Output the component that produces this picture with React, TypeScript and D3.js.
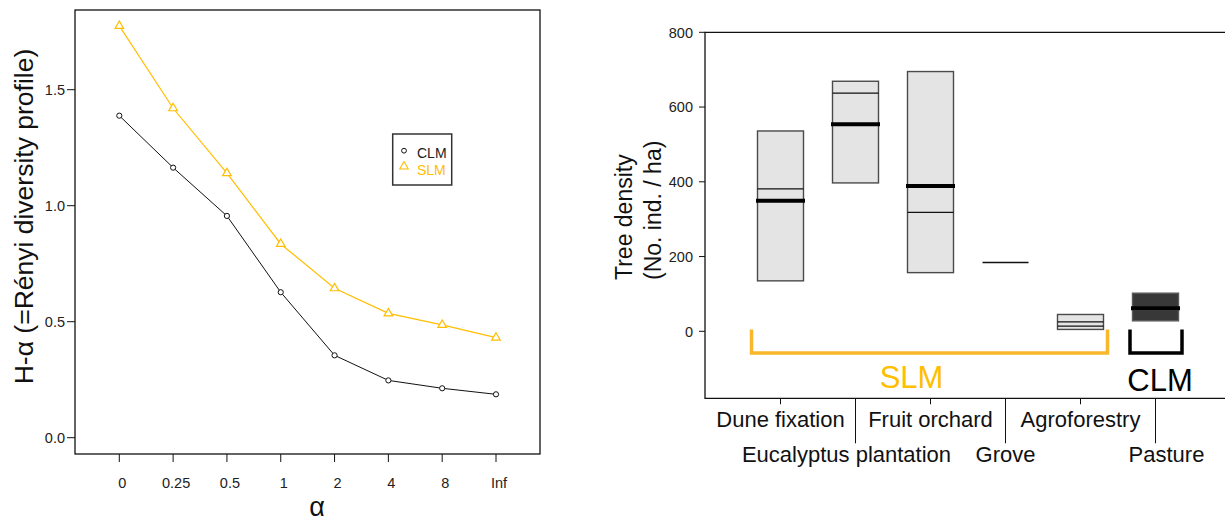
import React, { useEffect, useRef } from 'react';
import * as d3 from 'd3';

// Rényi diversity profile (left panel)
const alphaLabels = ['0', '0.25', '0.5', '1', '2', '4', '8', 'Inf'];
const clmValues = [1.388, 1.164, 0.956, 0.627, 0.355, 0.247, 0.213, 0.187];
const slmValues = [1.775, 1.42, 1.14, 0.835, 0.644, 0.536, 0.486, 0.431];
const hTicks = [0, 0.5, 1.0, 1.5];

// Tree density by land use (right panel)
const landUses = ['Dune fixation', 'Eucalyptus plantation', 'Fruit orchard', 'Grove', 'Agroforestry', 'Pasture'];
const boxLow = [135, 397, 157, 184, 5, 28];
const boxHigh = [536, 669, 695, 184, 45, 102];
const boxMedian = [349, 554, 389, null, null, 62];
const boxInner = [[381], [637], [318], [], [25, 14], [57]];
const landGroup = ['SLM', 'SLM', 'SLM', 'SLM', 'SLM', 'CLM'];
const densityTicks = [0, 200, 400, 600, 800];

const SLM_COLOR = '#FFBE00';
const BRACKET_COLOR = '#F9B82C';
const FONT = '"Liberation Sans", Arial, sans-serif';

// the category labels in the original were nudged by hand
const labelNudge: Record<string, number> = { 'Eucalyptus plantation': -9, Pasture: 11 };

const App = () => {
    const svgRef = useRef<SVGSVGElement>(null);

    useEffect(() => {
        const svg = d3.select(svgRef.current);
        svg.selectAll('*').remove();
        svg.attr('font-family', FONT);

        // ---------- left panel ----------
        const frameL = { left: 75, right: 540, top: 10, bottom: 454 };
        const x = d3.scalePoint().domain(alphaLabels).range([119.3, 496]);
        const y = d3.scaleLinear().domain([0, 1.5]).range([437.7, 89.7]);

        const left = svg.append('g');
        left.append('rect')
            .attr('x', frameL.left).attr('y', frameL.top)
            .attr('width', frameL.right - frameL.left).attr('height', frameL.bottom - frameL.top)
            .attr('fill', 'none').attr('stroke', '#111').attr('stroke-width', 1.3);

        // y ticks
        hTicks.forEach(t => {
            left.append('line')
                .attr('x1', frameL.left - 8).attr('x2', frameL.left)
                .attr('y1', y(t)).attr('y2', y(t))
                .attr('stroke', '#111');
            left.append('text')
                .attr('x', frameL.left - 10).attr('y', y(t)).attr('dy', '0.36em')
                .attr('text-anchor', 'end').attr('font-size', 14.5).attr('fill', '#222')
                .text(d3.format('.1f')(t));
        });

        // x ticks
        alphaLabels.forEach(a => {
            left.append('line')
                .attr('x1', x(a)).attr('x2', x(a))
                .attr('y1', frameL.bottom).attr('y2', frameL.bottom + 8)
                .attr('stroke', '#111');
            left.append('text')
                .attr('x', x(a)! + 3).attr('y', 488.3)
                .attr('text-anchor', 'middle').attr('font-size', 14.5).attr('fill', '#222')
                .text(a);
        });

        left.append('text')
            .attr('x', 317).attr('y', 516).attr('text-anchor', 'middle')
            .attr('font-size', 27).attr('fill', '#111').text('α');

        left.append('text')
            .attr('transform', `translate(33,216.5) rotate(-90)`)
            .attr('text-anchor', 'middle').attr('font-size', 26.5).attr('fill', '#111')
            .text('H-α (=Rényi diversity profile)');

        const line = d3.line<number>().x((d, i) => x(alphaLabels[i])!).y(d => y(d));

        left.append('path').datum(clmValues)
            .attr('d', line).attr('fill', 'none').attr('stroke', '#111').attr('stroke-width', 1);
        left.append('path').datum(slmValues)
            .attr('d', line).attr('fill', 'none').attr('stroke', SLM_COLOR).attr('stroke-width', 1.2);

        left.selectAll('circle.clm').data(clmValues).enter().append('circle')
            .attr('cx', (d, i) => x(alphaLabels[i])!).attr('cy', d => y(d))
            .attr('r', 2.6).attr('fill', 'white').attr('stroke', '#111').attr('stroke-width', 1);

        const tri = d3.symbol().type(d3.symbolTriangle).size(32);
        left.selectAll('path.slm').data(slmValues).enter().append('path')
            .attr('transform', (d, i) => `translate(${x(alphaLabels[i])},${y(d)})`)
            .attr('d', tri).attr('fill', 'white').attr('stroke', SLM_COLOR).attr('stroke-width', 1.2);

        // legend
        const lg = left.append('g');
        lg.append('rect').attr('x', 392.7).attr('y', 134).attr('width', 59).attr('height', 51)
            .attr('fill', 'white').attr('stroke', '#333').attr('stroke-width', 1.5);
        lg.append('circle').attr('cx', 404).attr('cy', 150.7).attr('r', 2.4)
            .attr('fill', 'white').attr('stroke', '#111');
        lg.append('text').attr('x', 417).attr('y', 158).attr('font-size', 14).attr('fill', '#222').text('CLM');
        lg.append('path').attr('transform', 'translate(404,166.5)').attr('d', tri)
            .attr('fill', 'white').attr('stroke', SLM_COLOR).attr('stroke-width', 1.1);
        lg.append('text').attr('x', 417).attr('y', 175).attr('font-size', 14).attr('fill', SLM_COLOR).text('SLM');

        // ---------- right panel ----------
        const frameR = { left: 705, top: 32.3, bottom: 398.3, right: 1226 };
        const xr = d3.scalePoint().domain(landUses).range([780.5, 1155.5]);
        const yr = d3.scaleLinear().domain([0, 800]).range([331.3, 32.3]);
        const boxW = 46;

        const right = svg.append('g');
        right.append('path')
            .attr('d', `M${frameR.right},${frameR.top}H${frameR.left}V${frameR.bottom}H${frameR.right}`)
            .attr('fill', 'none').attr('stroke', '#111').attr('stroke-width', 1.3);

        densityTicks.forEach(t => {
            right.append('line')
                .attr('x1', frameR.left - 6).attr('x2', frameR.left)
                .attr('y1', yr(t)).attr('y2', yr(t)).attr('stroke', '#111');
            right.append('text')
                .attr('x', frameR.left - 12).attr('y', yr(t)).attr('dy', '0.36em')
                .attr('text-anchor', 'end').attr('font-size', 14.5).attr('fill', '#222')
                .text(t);
        });

        right.append('text')
            .attr('transform', `translate(632,280) rotate(-90)`)
            .attr('font-size', 23).attr('fill', '#111')
            .call(t => {
                t.append('tspan').attr('x', 0).attr('dy', 0).text('Tree density');
                t.append('tspan').attr('x', 0).attr('dy', 29).text('(No. ind. / ha)');
            });

        landUses.forEach((c, i) => {
            const cx = xr(c)!;
            const long = i % 2 === 1;
            right.append('line')
                .attr('x1', cx).attr('x2', cx)
                .attr('y1', frameR.bottom).attr('y2', long ? 443.3 : 404.3)
                .attr('stroke', '#111');
            right.append('text')
                .attr('x', cx + (labelNudge[c] || 0)).attr('y', long ? 461.7 : 427.3)
                .attr('text-anchor', 'middle').attr('font-size', 22).attr('fill', '#111')
                .text(c);

            const clm = landGroup[i] === 'CLM';
            if (boxHigh[i] > boxLow[i]) {
                right.append('rect')
                    .attr('x', cx - boxW / 2).attr('y', yr(boxHigh[i]))
                    .attr('width', boxW).attr('height', yr(boxLow[i]) - yr(boxHigh[i]))
                    .attr('fill', clm ? '#383838' : '#e4e4e4')
                    .attr('stroke', clm ? '#5a5a5a' : '#4a4a4a').attr('stroke-width', 1.4);
            } else {
                right.append('line')
                    .attr('x1', cx - boxW / 2).attr('x2', cx + boxW / 2)
                    .attr('y1', yr(boxHigh[i])).attr('y2', yr(boxHigh[i]))
                    .attr('stroke', '#111').attr('stroke-width', 1.4);
            }
            boxInner[i].forEach(v => {
                right.append('line')
                    .attr('x1', cx - boxW / 2).attr('x2', cx + boxW / 2)
                    .attr('y1', yr(v)).attr('y2', yr(v))
                    .attr('stroke', clm ? '#666' : '#111').attr('stroke-width', 1.2);
            });
            const med = boxMedian[i];
            if (med != null) {
                right.append('line')
                    .attr('x1', cx - boxW / 2 - 1.5).attr('x2', cx + boxW / 2 + 1.5)
                    .attr('y1', yr(med)).attr('y2', yr(med))
                    .attr('stroke', '#000').attr('stroke-width', 4);
            }
        });

        // group brackets
        const groups = [
            { name: 'SLM', from: 'Dune fixation', to: 'Agroforestry', x0: -29, x1: 27, color: BRACKET_COLOR, text: SLM_COLOR, labelShift: -18 },
            { name: 'CLM', from: 'Pasture', to: 'Pasture', x0: -25.5, x1: 26.5, color: '#000', text: '#000', labelShift: 4 },
        ];
        groups.forEach(g => {
            const a = xr(g.from)! + g.x0;
            const b = xr(g.to)! + g.x1;
            const top = yr(5);
            const bot = yr(-58);
            right.append('path')
                .attr('d', `M${a},${top}V${bot}H${b}V${top}`)
                .attr('fill', 'none').attr('stroke', g.color).attr('stroke-width', 3.5);
            right.append('text')
                .attr('x', (a + b) / 2 + g.labelShift).attr('y', g.name === 'SLM' ? 387.7 : 390.7)
                .attr('text-anchor', 'middle').attr('font-size', 31).attr('fill', g.text)
                .text(g.name);
        });
    }, []);

    return (
        <svg ref={svgRef} width={1225} height={524}
            style={{ position: 'absolute', left: 0, top: 0, background: 'white' }} />
    );
};

export default App;
